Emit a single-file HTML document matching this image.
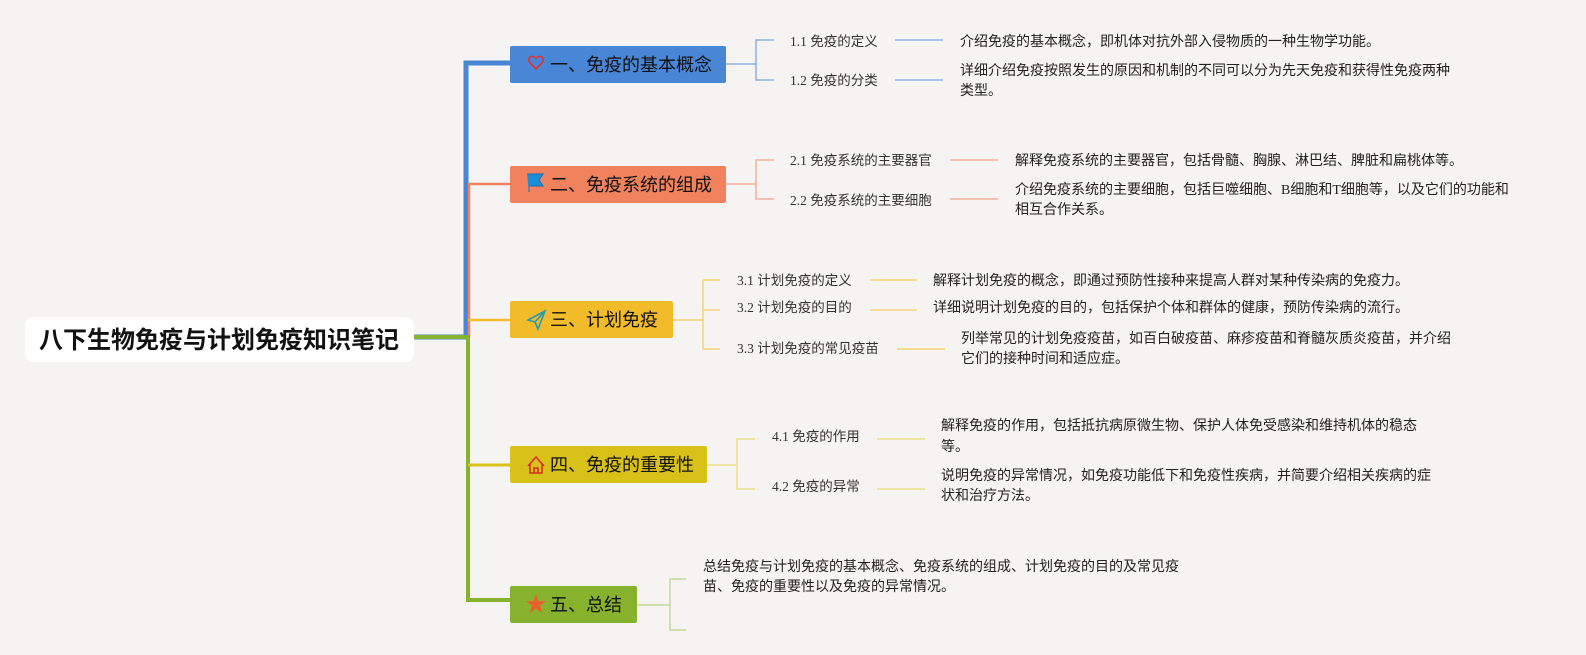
<!DOCTYPE html>
<html><head><meta charset="utf-8"><style>
html,body{margin:0;padding:0;overflow:hidden;background:#f5f4f2;}
svg{display:block;font-family:"Liberation Sans","Noto Sans CJK SC",sans-serif;}
.s{font-size:13.5px;fill:#333;font-family:"Liberation Serif","Noto Sans CJK SC",sans-serif;}
.d{font-size:14px;fill:#222;font-family:"Liberation Serif","Noto Sans CJK SC",sans-serif;}
.b{font-size:18px;fill:#111;}
</style></head><body>
<svg width="1586" height="655" viewBox="0 0 1586 655">
<rect width="1586" height="655" fill="#f5f4f2"/>
<path d="M414 337 H466 V63 H510" fill="none" stroke="#4a86d6" stroke-width="5"/>
<path d="M466 337 H469 V184 H510" fill="none" stroke="#f0825e" stroke-width="2.5"/>
<path d="M468 320 H510" fill="none" stroke="#f1bb2a" stroke-width="2.5"/>
<path d="M414 337 H468 V600 H510" fill="none" stroke="#86b22e" stroke-width="4"/>
<path d="M468 465 H510" fill="none" stroke="#d8c21a" stroke-width="3"/>
<rect x="25" y="317" width="389" height="45" rx="9" fill="#fff"/>
<text x="219" y="348" text-anchor="middle" font-size="24" font-weight="bold" fill="#111">八下生物免疫与计划免疫知识笔记</text>
<rect x="510" y="46" width="216" height="37" rx="2" fill="#4a86d6"/>
<path d="M536 58 c-4 -4 -10 0 -6 5 l6 6 l6 -6 c4 -5 -2 -9 -6 -5z" fill="none" stroke="#e03030" stroke-width="1.6"/>
<text x="550" y="71" class="b">一、免疫的基本概念</text>
<path d="M726 64 H756 M774 40 H756 V80 H774" fill="none" stroke="#8fb1e3" stroke-width="1.5"/>
<text x="790" y="46" class="s">1.1 免疫的定义</text>
<text x="790" y="85" class="s">1.2 免疫的分类</text>
<path d="M895 40 H943 M895 80 H943" stroke="#8fb1e3" stroke-width="1.5"/>
<text x="960" y="46" class="d">介绍免疫的基本概念，即机体对抗外部入侵物质的一种生物学功能。</text>
<text x="960" y="75" class="d">详细介绍免疫按照发生的原因和机制的不同可以分为先天免疫和获得性免疫两种</text>
<text x="960" y="95" class="d">类型。</text>
<rect x="510" y="166" width="216" height="37" rx="2" fill="#f0825e"/>
<path d="M527 174 H543 L539 180 L543 186 H529 V192" fill="#1a8fd8" stroke="#1a6fb8" stroke-width="1"/>
<text x="550" y="191" class="b">二、免疫系统的组成</text>
<path d="M726 184 H756 M774 160 H756 V199 H774" fill="none" stroke="#f4b09a" stroke-width="1.5"/>
<text x="790" y="165" class="s">2.1 免疫系统的主要器官</text>
<text x="790" y="205" class="s">2.2 免疫系统的主要细胞</text>
<path d="M950 160 H998 M950 199 H998" stroke="#f4b09a" stroke-width="1.5"/>
<text x="1015" y="165" class="d">解释免疫系统的主要器官，包括骨髓、胸腺、淋巴结、脾脏和扁桃体等。</text>
<text x="1015" y="194" class="d">介绍免疫系统的主要细胞，包括巨噬细胞、B细胞和T细胞等，以及它们的功能和</text>
<text x="1015" y="214" class="d">相互合作关系。</text>
<rect x="510" y="301" width="163" height="37" rx="2" fill="#f1bb2a"/>
<path d="M528 320 L545 311 L538 329 L535 322 Z M535 322 L545 311" fill="none" stroke="#2a9ab0" stroke-width="1.6"/>
<text x="550" y="326" class="b">三、计划免疫</text>
<path d="M673 320 H703 M720 280 H703 V349 H720 M703 310 H720" fill="none" stroke="#f3d47a" stroke-width="1.5"/>
<text x="737" y="285" class="s">3.1 计划免疫的定义</text>
<text x="737" y="312" class="s">3.2 计划免疫的目的</text>
<text x="737" y="353" class="s">3.3 计划免疫的常见疫苗</text>
<path d="M870 280 H917 M870 310 H917 M897 349 H945" stroke="#f3d47a" stroke-width="1.5"/>
<text x="933" y="285" class="d">解释计划免疫的概念，即通过预防性接种来提高人群对某种传染病的免疫力。</text>
<text x="933" y="312" class="d">详细说明计划免疫的目的，包括保护个体和群体的健康，预防传染病的流行。</text>
<text x="961" y="343" class="d">列举常见的计划免疫疫苗，如百白破疫苗、麻疹疫苗和脊髓灰质炎疫苗，并介绍</text>
<text x="961" y="363" class="d">它们的接种时间和适应症。</text>
<rect x="510" y="446" width="197" height="37" rx="2" fill="#d8c21a"/>
<path d="M528 466 L536 457 L544 466 M530 464 V473 H542 V464 M534 473 V468 H538 V473" fill="none" stroke="#d83020" stroke-width="1.6"/>
<text x="550" y="471" class="b">四、免疫的重要性</text>
<path d="M707 465 H737 M755 439 H737 V489 H755" fill="none" stroke="#ece08a" stroke-width="1.5"/>
<text x="772" y="441" class="s">4.1 免疫的作用</text>
<text x="772" y="491" class="s">4.2 免疫的异常</text>
<path d="M877 439 H925 M877 489 H925" stroke="#ece08a" stroke-width="1.5"/>
<text x="941" y="430" class="d">解释免疫的作用，包括抵抗病原微生物、保护人体免受感染和维持机体的稳态</text>
<text x="941" y="451" class="d">等。</text>
<text x="941" y="480" class="d">说明免疫的异常情况，如免疫功能低下和免疫性疾病，并简要介绍相关疾病的症</text>
<text x="941" y="500" class="d">状和治疗方法。</text>
<rect x="510" y="586" width="127" height="37" rx="2" fill="#86b22e"/>
<path d="M536 594 L538.5 601 L546 601 L540 605.5 L542.3 613 L536 608.5 L529.7 613 L532 605.5 L526 601 L533.5 601 Z" fill="#e8602a"/>
<text x="550" y="611" class="b">五、总结</text>
<path d="M637 605 H670 M686 579 H670 V630 H686" fill="none" stroke="#c3d996" stroke-width="1.5"/>
<text x="703" y="571" class="d">总结免疫与计划免疫的基本概念、免疫系统的组成、计划免疫的目的及常见疫</text>
<text x="703" y="591" class="d">苗、免疫的重要性以及免疫的异常情况。</text>
</svg>
</body></html>
